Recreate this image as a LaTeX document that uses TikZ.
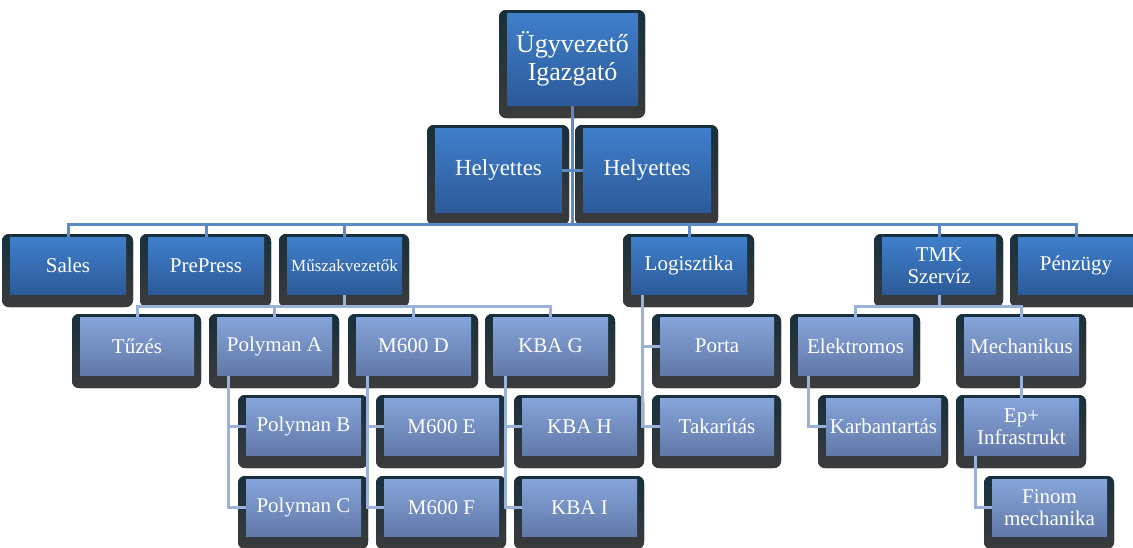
\documentclass[tikz,border=0pt]{standalone}
\usepackage{fontspec}
\setmainfont{Liberation Serif}
\usetikzlibrary{calc}
\pgfdeclarelayer{shadowl}
\pgfdeclarelayer{conn}
\pgfsetlayers{shadowl,conn,main}
\definecolor{topA}{HTML}{3F7FCC}
\definecolor{botA}{HTML}{2C5A98}
\definecolor{topB}{HTML}{86A5DA}
\definecolor{botB}{HTML}{6178A8}
\definecolor{shadA}{HTML}{18303B}
\definecolor{shadB}{HTML}{3A3B3C}
\definecolor{lineA}{HTML}{5B8AC6}
\definecolor{lineB}{HTML}{9AB1DA}
\tikzset{
  boxA/.style={inner sep=0pt, top color=topA, bottom color=botA, draw=none, text=white, align=center, font=\fontsize{21}{22}\selectfont},
  boxB/.style={inner sep=0pt, top color=topB, bottom color=botB, draw=none, text=white, align=center, font=\fontsize{21}{22}\selectfont},
  shad/.style={top color=shadA, bottom color=shadB, rounded corners=7pt},
  connA/.style={draw=lineA, line width=3pt},
  connB/.style={draw=lineB, line width=3pt},
}
% #1 style, #2 name, #3 x1, #4 y1, #5 x2, #6 y2, #7 text
\newcommand\orgbox[7]{%
  \begin{pgfonlayer}{shadowl}
    \fill[shad] (#3-8,#4-3) rectangle (#5+7,#6+13);
  \end{pgfonlayer}
  \node[#1, minimum width={#5-#3}, minimum height={#6-#4}] (#2) at ({(#3+#5)/2},{(#4+#6)/2}) {#7};
}
\begin{document}
\begin{tikzpicture}[x=1pt,y=-1pt]
\useasboundingbox (0,0) rectangle (1133,547);
% level 0
\orgbox{boxA, font=\fontsize{26}{28}\selectfont}{ceo}{507}{13}{638}{105}{Ügyvezető\\Igazgató}
% level 1
\orgbox{boxA, font=\fontsize{23}{24}\selectfont}{hl}{435}{128}{562}{212}{Helyettes}
\orgbox{boxA, font=\fontsize{23}{24}\selectfont}{hr}{583}{128}{711}{212}{Helyettes}
% level 2
\orgbox{boxA}{sales}{10}{237}{126}{294}{Sales}
\orgbox{boxA}{prep}{148}{237}{264}{294}{PrePress}
\orgbox{boxA, font=\fontsize{17}{18}\selectfont}{musz}{287}{237}{402}{294}{Műszakvezetők}
\orgbox{boxA}{logi}{631}{237}{747}{294}{Logisztika}
\orgbox{boxA}{tmk}{882}{237}{996}{294}{TMK\\Szervíz}
\orgbox{boxA}{penz}{1018}{237}{1134}{294}{Pénzügy}
% level 3 row 1
\orgbox{boxB}{tuzes}{80}{317}{194}{375}{Tűzés}
\orgbox{boxB}{pola}{217}{317}{332}{375}{Polyman A}
\orgbox{boxB}{md}{356}{317}{471}{375}{M600 D}
\orgbox{boxB}{kg}{493}{317}{608}{375}{KBA G}
\orgbox{boxB}{porta}{660}{317}{774}{375}{Porta}
\orgbox{boxB}{elek}{798}{317}{913}{375}{Elektromos}
\orgbox{boxB}{mech}{964}{317}{1079}{375}{Mechanikus}
% row 2
\orgbox{boxB}{polb}{246}{398}{361}{455}{Polyman B}
\orgbox{boxB}{me}{384}{398}{499}{455}{M600 E}
\orgbox{boxB}{kh}{522}{398}{637}{455}{KBA H}
\orgbox{boxB}{tak}{660}{398}{774}{455}{Takarítás}
\orgbox{boxB}{karb}{826}{398}{941}{455}{Karbantartás}
\orgbox{boxB}{ep}{964}{398}{1079}{455}{Ep+\\Infrastrukt}
% row 3
\orgbox{boxB}{polc}{246}{479}{361}{536}{Polyman C}
\orgbox{boxB}{mf}{384}{479}{499}{536}{M600 F}
\orgbox{boxB}{ki}{522}{479}{637}{536}{KBA I}
\orgbox{boxB}{finom}{992}{479}{1107}{536}{Finom\\mechanika}
% helper coordinates
\coordinate (bus) at (0,224);
\coordinate (mbus) at (0,306);
\coordinate (tbus) at (0,306);
\coordinate (pA) at ($(pola.south west)+(12,0)$);
\coordinate (pD) at ($(md.south west)+(12,0)$);
\coordinate (pG) at ($(kg.south west)+(13,0)$);
\coordinate (pL) at ($(logi.south west)+(12,0)$);
\coordinate (pE) at ($(elek.south west)+(11,0)$);
\coordinate (pP) at ($(ep.south west)+(12,0)$);
\begin{pgfonlayer}{conn}
\draw[connA] (ceo.south) -- (ceo.south |- bus);
\draw[connA] (hl.east) -- (hr.west);
\draw[connA] (sales.north) -- (sales.north |- bus) -| (penz.north);
\foreach \n in {prep,musz,logi,tmk} \draw[connA] (\n.north) -- (\n.north |- bus);
\draw[connB] (musz.south) -- (musz.south |- mbus);
\draw[connB] (tuzes.north) -- (tuzes.north |- mbus) -| (kg.north);
\foreach \n in {pola,md} \draw[connB] (\n.north) -- (\n.north |- mbus);
\draw[connB] (pA) |- (polc.west);
\draw[connB] (pA |- polb.west) -- (polb.west);
\draw[connB] (pD) |- (mf.west);
\draw[connB] (pD |- me.west) -- (me.west);
\draw[connB] (pG) |- (ki.west);
\draw[connB] (pG |- kh.west) -- (kh.west);
\draw[connB] (pL) |- (tak.west);
\draw[connB] (pL |- porta.west) -- (porta.west);
\draw[connB] (tmk.south) -- (tmk.south |- tbus);
\draw[connB] (elek.north) -- (elek.north |- tbus) -| (mech.north);
\draw[connB] (pE) |- (karb.west);
\draw[connB] (mech.south) -- (ep.north);
\draw[connB] (pP) |- (finom.west);
\end{pgfonlayer}
\end{tikzpicture}
\end{document}
